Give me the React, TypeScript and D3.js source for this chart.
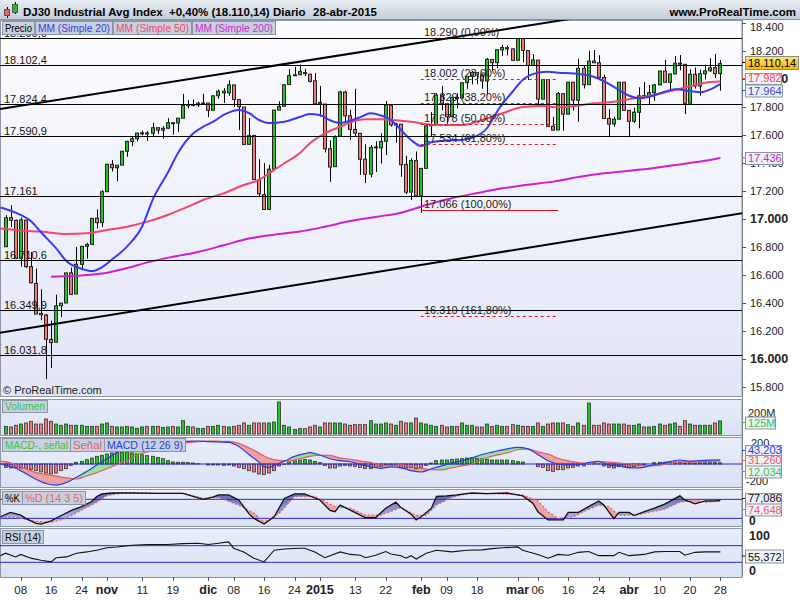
import React from 'react';
import * as d3 from 'd3';

// daily bars, 3-oct-2014 .. 28-abr-2015 (index 0 = 3-oct)
const opens = [16802,17010,16990,16720,16992,16660,16540,16325,16315,16140,
  16120,16380,16400,16615,16465,16676,16805,16819,17006,16974,
  17195,17390,17366,17385,17484,17553,17574,17614,17615,17613,
  17652,17635,17648,17688,17686,17720,17810,17818,17815,17828,
  17828,17777,17880,17913,17901,17958,17853,17800,17533,17597,
  17281,17174,17069,17356,17778,17805,17960,18025,18030,18046,
  18035,17987,17823,17821,17502,17374,17591,17907,17737,17640,
  17612,17427,17320,17512,17508,17555,17813,17672,17677,17389,
  17192,17417,17165,17362,17666,17673,17885,17824,17730,17868,
  17864,17974,18018,18046,18029,17986,18140,18117,18208,18224,
  18215,18134,18288,18203,18097,18135,17856,17996,17663,17636,
  17895,17749,17977,17848,18076,17960,18128,18116,18011,17718,
  17679,17713,17977,17776,17698,17762,17881,17875,17902,17958,
  18057,17976,18036,18113,18105,17827,18034,17950,18037,18059,
  18081,18039];
const highs = [17027,17099,16996,17010,16994,16765,16646,16498,16320,16275,
  16459,16400,16615,16653,16800,16805,16830,17005,17069,17206,
  17395,17421,17384,17484,17559,17590,17614,17630,17628,17688,
  17656,17662,17720,17688,17721,17894,17851,17854,17838,17894,
  17828,17880,17924,17934,17991,17958,17854,17801,17720,17597,
  17427,17400,17388,17778,17841,17960,18069,18086,18103,18073,
  18035,18043,17951,17821,17562,17597,17916,17917,17781,17930,
  17612,17534,17528,17555,17612,17843,17814,17687,17677,17452,
  17434,17482,17365,17666,17763,17898,17951,17824,17873,17899,
  17975,18020,18057,18046,18039,18150,18140,18212,18244,18238,
  18219,18290,18288,18203,18178,18135,18001,17996,17730,17907,
  17895,17978,17977,18145,18093,18202,18207,18170,18032,17784,
  17730,17977,17977,17776,17795,17941,17979,17958,17964,18057,
  18137,18040,18164,18171,18105,18069,18082,18067,18103,18149,
  18178,18135];
const lows = [16802,16942,16716,16660,16650,16540,16321,16277,15855,15936,
  16120,16299,16400,16458,16465,16633,16717,16819,16932,16943,
  17195,17339,17270,17385,17445,17520,17554,17597,17557,17592,
  17609,17575,17645,17603,17620,17720,17791,17804,17799,17815,
  17728,17777,17859,17829,17880,17799,17636,17530,17533,17280,
  17156,17068,17069,17356,17778,17805,17960,18024,18030,18021,
  17975,17820,17731,17475,17266,17374,17591,17684,17566,17586,
  17314,17257,17297,17335,17396,17457,17660,17544,17302,17178,
  17136,17164,17045,17362,17590,17673,17777,17681,17730,17790,
  17864,17930,17961,17962,17931,17886,18059,18077,18165,18168,
  18132,18134,18119,17993,18097,17802,17856,17662,17631,17636,
  17630,17749,17775,17695,17932,17960,18115,18008,17717,17585,
  17659,17713,17775,17585,17685,17648,17874,17816,17844,17958,
  17974,17918,18036,18062,17750,17827,17932,17880,17996,18051,
  18008,17917];
const closes = [17009,16991,16719,16994,16659,16544,16321,16315,16141,16117,
  16380,16399,16615,16462,16677,16805,16818,17005,16974,17195,
  17391,17366,17384,17484,17554,17573,17614,17615,17612,17652,
  17635,17648,17688,17686,17720,17810,17818,17815,17828,17828,
  17777,17880,17913,17901,17959,17853,17801,17533,17597,17281,
  17180,17068,17356,17778,17804,17959,18024,18030,18053,18038,
  17983,17823,17833,17501,17371,17585,17908,17737,17640,17613,
  17427,17320,17512,17515,17554,17814,17672,17678,17388,17191,
  17417,17165,17361,17666,17673,17885,17825,17730,17868,17863,
  17973,18019,18047,18029,17986,18141,18117,18209,18225,18215,
  18133,18289,18204,18097,18136,17857,17996,17662,17635,17896,
  17749,17977,17849,18076,17959,18128,18116,18011,17718,17678,
  17713,17977,17776,17698,17763,17880,17875,17902,17958,18057,
  17977,18036,18113,18106,17826,18034,17950,18038,18058,18080,
  18038,18110];
// volume, millions
const volumes = [73,67,83,95,105,121,95,95,143,121,
  95,83,95,83,83,83,73,73,73,95,
  105,73,67,67,73,67,54,67,73,73,
  73,63,67,73,67,127,73,67,54,54,
  73,73,83,73,67,73,83,105,83,105,
  105,105,105,114,305,83,67,44,51,51,
  67,83,67,105,105,105,105,95,83,89,
  89,89,127,95,95,105,95,83,121,105,
  105,152,105,95,83,73,83,67,73,73,
  105,83,83,67,67,95,73,83,73,73,
  89,83,73,73,73,105,73,95,105,105,
  105,89,73,105,83,295,83,83,105,95,
  95,95,95,83,83,95,67,67,73,95,
  83,95,105,73,127,95,83,83,83,83,
  105,125];
// MACD histogram (MACD - señal), per bar
const macdHist = [-35,-42,-35,-42,-49,-60,-70,-84,-95,-105,
  -95,-70,-49,-14,18,28,46,63,81,91,
  105,116,126,126,126,116,105,98,88,81,
  70,56,35,21,18,18,14,10,2,0,
  -10,-10,-10,-14,-10,-21,-35,-49,-70,-84,
  -105,-112,-95,-70,-21,-3,21,35,42,46,
  42,28,14,-14,-42,-42,-21,-14,-21,-25,
  -35,-49,-49,-35,-25,-14,-14,-14,-35,-42,
  -35,-49,-42,-14,10,35,42,42,49,53,
  56,63,67,56,53,49,42,42,42,42,
  35,25,21,0,0,-28,-35,-70,-77,-60,
  -60,-42,-35,-21,-21,10,14,2,-21,-35,
  -42,-28,-28,-35,-25,-14,-10,0,14,18,
  18,18,21,21,10,14,10,14,14,14,
  14,12];
// [bar index, value]
const macdLine = [[-1,5],[0,-15],[2,-45],[4,-100],[6,-160],[8,-205],[10,-222],[12,-195],[14,-140],[16,-80],[18,-10],[20,55],[22,120],[24,165],[26,200],[28,215],[30,227],[32,234],[34,238],[36,239],[38,242],[40,236],[42,232],[44,228],[46,185],[48,100],[50,20],[51,-28],[52,-38],[53,-15],[55,30],[57,80],[59,110],[60,119],[62,95],[64,55],[66,35],[68,24],[70,-5],[72,-30],[74,-46],[76,-30],[78,-40],[80,-70],[82,-84],[84,-50],[86,-20],[88,10],[90,35],[92,65],[94,100],[96,125],[99,160],[101,175],[103,160],[105,100],[107,35],[109,0],[111,-10],[113,-7],[115,15],[117,28],[118,10],[119,-15],[121,-20],[123,-40],[125,-40],[127,-20],[129,5],[131,25],[133,42],[135,30],[137,35],[139,40],[141,43]];
const signalLine = [[-1,30],[0,25],[2,-8],[4,-50],[6,-90],[8,-110],[10,-127],[12,-146],[14,-158],[16,-126],[18,-91],[20,-50],[22,-6],[24,39],[26,95],[28,127],[30,157],[32,199],[34,220],[36,225],[38,236],[40,241],[42,240],[44,238],[46,218],[48,170],[49,145],[50,115],[51,85],[52,60],[54,38],[56,32],[58,55],[60,80],[62,92],[64,90],[66,62],[68,50],[70,30],[72,18],[74,-15],[76,-18],[78,-10],[80,-28],[82,-42],[84,-60],[86,-62],[88,-40],[90,-20],[92,0],[94,47],[96,83],[99,118],[101,150],[103,160],[105,128],[107,105],[109,60],[111,32],[113,14],[115,5],[117,24],[119,20],[121,10],[123,0],[125,-12],[127,-20],[129,-15],[131,7],[133,20],[135,20],[137,23],[139,27],[141,31]];
const stochK = [[-1,25],[1,39],[3,30],[4,20],[6,4],[7,2],[9,12],[11,29],[13,45],[15,57],[17,73],[18,89],[19,97],[21,100],[25,100],[30,99],[35,99],[37,89],[39,80],[41,88],[42,94],[44,94],[46,78],[48,35],[49,20],[51,2],[53,25],[55,83],[57,97],[59,97],[62,78],[64,45],[65,41],[66,62],[68,46],[71,22],[73,22],[75,52],[77,71],[78,54],[80,33],[81,15],[82,25],[84,52],[85,89],[87,91],[89,94],[92,100],[95,98],[99,100],[102,91],[104,68],[105,41],[107,15],[110,15],[111,39],[113,39],[115,57],[117,75],[118,62],[120,19],[121,39],[123,39],[124,29],[126,41],[128,52],[130,65],[133,91],[134,78],[136,66],[138,75],[140,75],[141,77]];
const stochD = [[-1,22],[2,25],[5,12],[9,7],[12,20],[15,46],[18,71],[20,92],[23,100],[30,99],[35,99],[39,83],[42,86],[46,62],[49,36],[51,8],[54,36],[57,89],[61,89],[65,57],[68,52],[71,30],[74,30],[78,54],[81,29],[83,30],[85,62],[88,86],[91,98],[97,98],[102,94],[105,75],[107,41],[109,19],[112,25],[114,41],[117,62],[119,57],[121,30],[124,30],[126,36],[130,49],[133,71],[136,78],[138,71],[141,74]];
const rsiLine = [[-1,46],[0,52],[2,43],[3,49],[5,40],[7,35],[9,31],[10,41],[12,43],[14,52],[16,55],[18,59],[20,65],[22,67],[25,71],[28,73],[32,73],[35,75],[38,76],[40,73],[42,76],[44,79],[45,64],[47,55],[49,40],[51,31],[53,59],[55,62],[58,64],[59,64],[61,55],[63,41],[66,55],[68,49],[70,47],[71,41],[73,47],[75,56],[76,50],[78,46],[79,40],[80,46],[81,38],[83,52],[85,59],[88,55],[91,59],[94,60],[96,63],[98,65],[101,67],[102,59],[105,49],[107,40],[109,49],[111,47],[113,54],[115,56],[117,46],[120,46],[121,54],[123,46],[126,49],[128,55],[130,56],[133,56],[134,47],[136,54],[138,55],[141,55]];
const sma20 = [[-1,17082],[0,17072],[2,17045],[5,16985],[7,16905],[10,16790],[12,16700],[15,16645],[17,16628],[19,16655],[21,16710],[24,16805],[27,16950],[29,17135],[32,17330],[34,17470],[37,17610],[39,17660],[41,17695],[43,17743],[46,17779],[48,17757],[50,17707],[52,17686],[55,17695],[58,17728],[60,17750],[62,17743],[64,17705],[66,17686],[68,17702],[70,17728],[72,17755],[74,17740],[76,17707],[78,17636],[80,17564],[82,17521],[84,17548],[87,17560],[90,17565],[92,17580],[95,17650],[97,17770],[100,17909],[102,17993],[105,18045],[107,18052],[109,18045],[112,18040],[116,18016],[119,17965],[121,17921],[123,17880],[125,17862],[127,17874],[130,17909],[132,17926],[135,17914],[137,17905],[139,17926],[141,17964]];
const sma50 = [[-1,16932],[0,16929],[3,16917],[7,16910],[12,16893],[16,16898],[20,16921],[24,16945],[28,16981],[32,17029],[36,17088],[39,17136],[43,17183],[47,17243],[50,17279],[52,17326],[55,17398],[58,17469],[60,17540],[63,17612],[66,17659],[68,17690],[71,17712],[74,17712],[77,17705],[80,17695],[85,17671],[90,17671],[94,17707],[98,17755],[102,17800],[106,17807],[109,17798],[112,17807],[116,17826],[120,17838],[124,17862],[128,17886],[132,17921],[136,17957],[139,17978],[141,17982]];
const sma200 = [[9,16588],[14,16595],[19,16610],[24,16650],[28,16690],[33,16730],[38,16765],[43,16812],[48,16860],[53,16888],[58,16910],[63,16945],[68,16985],[73,17015],[78,17045],[83,17100],[88,17148],[93,17185],[98,17219],[103,17245],[108,17267],[113,17300],[118,17326],[123,17345],[128,17365],[133,17390],[137,17410],[141,17436]];

const levelValues = [18290, 18102.4, 17824.4, 17590.9, 17161, 16710.6, 16349.9, 16031.8];
const levelLabels = ['18.290,0', '18.102,4', '17.824,4', '17.590,9', '17.161', '16.710,6', '16.349,9', '16.031,8'];
const fibValues = [18290, 18002, 17829, 17678, 17534, 17066, 16310];
const fibPercents = ['0,00%', '23,60%', '38,20%', '50,00%', '61,80%', '100,00%', '161,80%'];
const upperTrend = [[0, 17792], [100, 18364]];
const lowerTrend = [[0, 16194], [100, 16777]];
const priceTicks = [15800, 16000, 16200, 16400, 16600, 16800, 17000, 17200, 17400, 17600, 17800, 18000, 18200, 18400];
const xTickIndex = [3, 9, 15, 20, 27, 33, 40, 45, 51, 57, 62, 69, 75, 82, 87, 93, 101, 105, 111, 117, 123, 129, 135, 141];
const xTickLabels = ['08', '16', '24', 'nov', '11', '19', 'dic', '08', '16', '24', '2015', '13', '22', 'feb', '09', '18', 'mar', '06', '16', '24', 'abr', '10', '20', '28'];

const FONT = '"Liberation Sans", Arial, sans-serif';
const UP = '#22c822';
const DOWN = '#f07a7a';
const BOX = '#c7d0dd';
const BOXLINE = '#8a94a4';
const PR = 742; // plot right edge

const loc = d3.formatLocale({ decimal: ',', thousands: '.', grouping: [3], currency: ['', ''], minus: '-' });
const fmt = loc.format(',');

type Pt = number[];

const App: React.FC = () => {
    const x = d3.scaleLinear().domain([0, 141]).range([5.5, 720.4]);
    const yP = d3.scaleLinear().domain([16000, 18400]).range([359, 23]);
    const yV = d3.scaleLinear().domain([0, 200]).range([434, 413]);
    const yM = d3.scaleLinear().domain([-200, 200]).range([483, 445]);
    const yS = d3.scaleLinear().domain([0, 100]).range([524.7, 493]);
    const yR = d3.scaleLinear().domain([0, 100]).range([574.8, 533.2]);

    const smooth = (y: d3.ScaleLinear<number, number>) =>
        d3.line<Pt>().x(d => x(d[0])).y(d => y(d[1])).curve(d3.curveMonotoneX);
    const straight = (y: d3.ScaleLinear<number, number>) =>
        d3.line<Pt>().x(d => x(d[0])).y(d => y(d[1]));
    const band = (y: d3.ScaleLinear<number, number>, base: number, curve: d3.CurveFactory) =>
        d3.area<Pt>().x(d => x(d[0])).y0(base).y1(d => y(d[1])).curve(curve);

    const trend = (t: number[][]) => {
        const s = (t[1][1] - t[0][1]) / (t[1][0] - t[0][0]);
        const a = -3, b = 150;
        return { x1: x(a), y1: yP(t[0][1] + s * (a - t[0][0])), x2: x(b), y2: yP(t[0][1] + s * (b - t[0][0])) };
    };
    const ut = trend(upperTrend);
    const lt = trend(lowerTrend);

    // legend tab: text squeezed to the tab width like the original
    const label = (bx: number, by: number, w: number, h: number, text: string, color: string, key: string) => (
        <g key={key}>
            <rect x={bx + 0.5} y={by + 0.5} width={w} height={h} fill={BOX} stroke={BOXLINE} />
            <text x={bx + 3} y={by + h - 2.5} fontSize={11} fill={color}
                textLength={w - 5} lengthAdjust="spacingAndGlyphs">{text}</text>
        </g>
    );
    const valueBox = (by: number, w: number, h: number, text: string, color: string, key: string) => (
        <g key={key}>
            <line x1={PR} x2={PR + 4} y1={by + h / 2} y2={by + h / 2} stroke={color} />
            <rect x={745.5} y={by + 0.5} width={w} height={h} fill="#eef1f7" stroke="#8c94a2" />
            <text x={748} y={by + h - 2} fontSize={11} fill={color}>{text}</text>
        </g>
    );

    const panels = [[399, 435], [437, 487], [489, 526], [528, 577]];
    const fibStart = x(82) - 0.5, fibEnd = x(109);

    return (
        <svg width={800} height={600} style={{ position: 'absolute', left: 0, top: 0 }} fontFamily={FONT}>
            <defs>
                <linearGradient id="hdr" x1="0" y1="0" x2="0" y2="1">
                    <stop offset="0" stopColor="#e8edf3" />
                    <stop offset="1" stopColor="#c3cdd9" />
                </linearGradient>
                <linearGradient id="pbg" x1="0" y1="0" x2="0" y2="1">
                    <stop offset="0" stopColor="#fdfdff" />
                    <stop offset="1" stopColor="#e1e5f6" />
                </linearGradient>
                <linearGradient id="sbg" x1="0" y1="0" x2="0" y2="1">
                    <stop offset="0" stopColor="#e9eefa" />
                    <stop offset="1" stopColor="#d9e1f4" />
                </linearGradient>
                <linearGradient id="last" x1="0" y1="0" x2="0" y2="1">
                    <stop offset="0" stopColor="#ffe27a" />
                    <stop offset="1" stopColor="#f6b400" />
                </linearGradient>
                <linearGradient id="kfill" x1="0" y1="0" x2="0" y2="1">
                    <stop offset="0" stopColor="#5a68b8" />
                    <stop offset="1" stopColor="#c4cbef" />
                </linearGradient>
                <clipPath id="cP"><rect x={0} y={20} width={PR} height={377} /></clipPath>
                <clipPath id="cV"><rect x={0} y={399} width={PR} height={36} /></clipPath>
                <clipPath id="cM"><rect x={0} y={437} width={PR} height={50} /></clipPath>
                <clipPath id="cS"><rect x={0} y={489} width={PR} height={37} /></clipPath>
                <clipPath id="cR"><rect x={0} y={528} width={PR} height={49} /></clipPath>
                <clipPath id="sigUp"><path d={band(yM, 437, d3.curveMonotoneX)(signalLine) || ''} /></clipPath>
                <clipPath id="sigDn"><path d={band(yM, 487, d3.curveMonotoneX)(signalLine) || ''} /></clipPath>
                <clipPath id="dUp"><path d={band(yS, 489, d3.curveLinear)(stochD) || ''} /></clipPath>
                <clipPath id="dDn"><path d={band(yS, 526, d3.curveLinear)(stochD) || ''} /></clipPath>
            </defs>

            <rect x={0} y={0} width={800} height={600} fill="#ffffff" />

            {/* header */}
            <rect x={0} y={0} width={800} height={19.5} fill="url(#hdr)" />
            <line x1={0} x2={800} y1={19.5} y2={19.5} stroke="#8a94a4" />
            <line x1={7.5} x2={7.5} y1={7} y2={18} stroke="#000" />
            <rect x={4.5} y={9.5} width={5} height={6} fill="#f06060" stroke="#555" />
            <line x1={15.5} x2={15.5} y1={2} y2={14} stroke="#000" />
            <rect x={12.5} y={4.5} width={5} height={8} fill="#20c020" stroke="#555" />
            <text x={23} y={16} fontSize={11.5} fontWeight="bold">DJ30 Industrial Avg Index</text>
            <text x={169} y={16} fontSize={11.5} fontWeight="bold">+0,40% (18.110,14)</text>
            <text x={273} y={16} fontSize={11.5} fontWeight="bold">Diario</text>
            <text x={313} y={16} fontSize={11.5} fontWeight="bold">28-abr-2015</text>
            <text x={796} y={16} fontSize={11.5} fontWeight="bold" textAnchor="end">www.ProRealTime.com</text>

            {/* panel backgrounds */}
            <rect x={0.5} y={20.5} width={PR - 0.5} height={376} fill="url(#pbg)" stroke="#8c96a8" />
            {panels.map((p, k) => (
                <rect key={k} x={0.5} y={p[0] + 0.5} width={PR - 0.5} height={p[1] - p[0]} fill="url(#sbg)" stroke="#8c96a8" />
            ))}

            {/* price panel */}
            <g clipPath="url(#cP)">
                {closes.map((c, i) => {
                    const o = opens[i];
                    const cx = Math.round(x(i));
                    const top = yP(Math.max(o, c));
                    const bot = yP(Math.min(o, c));
                    return (
                        <g key={i}>
                            <line x1={cx + 0.5} x2={cx + 0.5} y1={yP(highs[i])} y2={yP(lows[i])} stroke="#000" />
                            <rect x={cx - 1.5} y={top} width={3} height={Math.max(1, bot - top)} fill={c >= o ? UP : DOWN} stroke="#222" />
                        </g>
                    );
                })}
                <path d={smooth(yP)(sma200) || ''} fill="none" stroke="#d21ed2" strokeWidth={2} />
                <path d={smooth(yP)(sma50) || ''} fill="none" stroke="#f2466a" strokeWidth={2} />
                <path d={smooth(yP)(sma20) || ''} fill="none" stroke="#3a3af2" strokeWidth={2} />
                {fibValues.map((v, k) => (
                    <line key={'f' + k} x1={fibStart} x2={fibEnd} y1={Math.round(yP(v)) + 0.5} y2={Math.round(yP(v)) + 0.5}
                        stroke="#e01818" strokeDasharray={k === 0 || k === 5 ? undefined : '3,3'} />
                ))}
                {levelValues.map((v, k) => (
                    <line key={'l' + k} x1={0} x2={PR} y1={Math.round(yP(v)) + 0.5} y2={Math.round(yP(v)) + 0.5} stroke="#000" />
                ))}
                <line {...ut} stroke="#000" strokeWidth={2} />
                <line {...lt} stroke="#000" strokeWidth={2} />
                {levelValues.map((v, k) => (
                    <text key={'t' + k} x={4} y={Math.round(yP(v)) - 1} fontSize={11} fill="#111">{levelLabels[k]}</text>
                ))}
                {fibValues.map((v, k) => (
                    <text key={'ft' + k} x={424} y={Math.round(yP(v)) - 2} fontSize={11} fill="#222">{fmt(v)} ({fibPercents[k]})</text>
                ))}
                <text x={3} y={394} fontSize={11} fill="#222">© ProRealTime.com</text>
            </g>
            {label(2, 21, 32, 13, 'Precio', '#000', 'lp')}
            {label(35, 21, 77, 13, 'MM (Simple 20)', '#3a3af2', 'l20')}
            {label(113, 21, 78, 13, 'MM (Simple 50)', '#f2466a', 'l50')}
            {label(192, 21, 83, 13, 'MM (Simple 200)', '#c82ad2', 'l200')}

            {/* volume */}
            <g clipPath="url(#cV)">
                {volumes.map((v, i) => {
                    const cx = Math.round(x(i));
                    return <rect key={i} x={cx - 1.5} y={yV(v)} width={3} height={434 - yV(v)}
                        fill={closes[i] >= opens[i] ? UP : DOWN} stroke="#333" strokeWidth={0.8} />;
                })}
            </g>
            {label(2, 400, 45, 12, 'Volumen', '#3cc03c', 'lv')}

            {/* MACD */}
            <g clipPath="url(#cM)">
                <path d={band(yM, 487, d3.curveMonotoneX)(macdLine) || ''} fill="#96e496" clipPath="url(#sigUp)" />
                <path d={band(yM, 437, d3.curveMonotoneX)(macdLine) || ''} fill="#eca0a0" clipPath="url(#sigDn)" />
                {macdHist.map((v, i) => {
                    const cx = Math.round(x(i));
                    const y0 = yM(0), y1 = yM(v);
                    return <rect key={i} x={cx - 1.5} y={Math.min(y0, y1)} width={3} height={Math.abs(y1 - y0)}
                        fill={v >= 0 ? UP : DOWN} stroke="#333" strokeWidth={0.8} />;
                })}
                <line x1={0} x2={PR} y1={yM(0)} y2={yM(0)} stroke="#2626d6" />
                <path d={smooth(yM)(signalLine) || ''} fill="none" stroke="#e25a6c" strokeWidth={1.2} />
                <path d={smooth(yM)(macdLine) || ''} fill="none" stroke="#2a3ae6" strokeWidth={1.2} />
            </g>
            {label(2, 438, 68, 13, 'MACD-, señal', '#3cc03c', 'lm1')}
            {label(70, 438, 34, 13, 'Señal', '#e25a6c', 'lm2')}
            {label(104, 438, 81, 13, 'MACD (12 26 9)', '#2a3ae6', 'lm3')}

            {/* Stochastic */}
            <g clipPath="url(#cS)">
                <path d={band(yS, 526, d3.curveLinear)(stochK) || ''} fill="url(#kfill)" clipPath="url(#dUp)" />
                <path d={band(yS, 489, d3.curveLinear)(stochK) || ''} fill="#eda4a4" clipPath="url(#dDn)" />
                <line x1={0} x2={PR} y1={yS(80)} y2={yS(80)} stroke="#2626d6" />
                <line x1={0} x2={PR} y1={yS(20)} y2={yS(20)} stroke="#2626d6" />
                <path d={straight(yS)(stochD) || ''} fill="none" stroke="#e8606a" strokeWidth={1.3} strokeDasharray="2,2" />
                <path d={straight(yS)(stochK) || ''} fill="none" stroke="#111" strokeWidth={1.3} />
            </g>
            {label(2, 491, 20, 13, '%K', '#000', 'lk')}
            {label(22, 491, 63, 13, '%D (14 3 5)', '#e8606a', 'ld')}

            {/* RSI */}
            <g clipPath="url(#cR)">
                <line x1={0} x2={PR} y1={yR(70)} y2={yR(70)} stroke="#2626d6" />
                <line x1={0} x2={PR} y1={yR(30)} y2={yR(30)} stroke="#2626d6" />
                <path d={straight(yR)(rsiLine) || ''} fill="none" stroke="#111" strokeWidth={1.1} />
            </g>
            {label(2, 530, 41, 13, 'RSI (14)', '#000', 'lr')}

            {/* right axis */}
            <line x1={PR + 0.5} x2={PR + 0.5} y1={20} y2={577} stroke="#7a8290" />
            {priceTicks.map(v => {
                const ty = Math.max(27, yP(v));
                const big = v % 1000 === 0;
                return (
                    <g key={v}>
                        <line x1={PR} x2={PR + 4} y1={Math.round(yP(v)) + 0.5} y2={Math.round(yP(v)) + 0.5} stroke="#555" />
                        <text x={750} y={ty + 4} fontSize={big ? 12.5 : 11} fontWeight={big ? 'bold' : 'normal'} fill="#222">{fmt(v)}</text>
                    </g>
                );
            })}
            <g>
                <line x1={PR} x2={PR + 4} y1={62.5} y2={62.5} stroke="#000" />
                <rect x={745.5} y={56.5} width={53} height={13} fill="url(#last)" stroke="#8c8c8c" />
                <text x={748} y={67} fontSize={11} fill="#000">18.110,14</text>
            </g>
            {valueBox(73, 36, 11, '17.982', '#f2466a', 'v50')}
            {valueBox(84.5, 37, 12, '17.964', '#3a3af2', 'v20')}
            {valueBox(152, 37, 12, '17.436', '#c82ad2', 'v200')}

            <text x={748} y={417} fontSize={11} fill="#222">200M</text>
            {valueBox(416.5, 30, 12, '125M', '#3cc03c', 'vv')}

            <text x={751} y={447} fontSize={11} fill="#222">200</text>
            <text x={746} y={485} fontSize={11} fill="#222">-200</text>
            {valueBox(445, 36, 11, '43,203', '#2a3ae6', 'vm1')}
            {valueBox(455, 36, 11, '31,260', '#e25a6c', 'vm2')}
            {valueBox(465.5, 36, 12, '12,034', '#3cc03c', 'vm3')}

            {valueBox(493, 36, 11, '77,086', '#111', 'vk')}
            {valueBox(503.5, 36, 12, '74,648', '#e8606a', 'vd')}
            <text x={749} y={525} fontSize={12} fontWeight="bold" fill="#222">0</text>

            <text x={749} y={540} fontSize={12.5} fontWeight="bold" fill="#222">100</text>
            {valueBox(549.5, 38, 13, '55,372', '#111', 'vr')}
            <text x={749} y={575} fontSize={12.5} fontWeight="bold" fill="#222">0</text>

            {/* x axis */}
            {xTickIndex.map((i, k) => {
                const bold = isNaN(+xTickLabels[k]) || xTickLabels[k] === '2015';
                return (
                    <g key={k}>
                        <line x1={Math.round(x(i)) + 0.5} x2={Math.round(x(i)) + 0.5} y1={577} y2={581} stroke="#555" />
                        <text x={x(i)} y={594} fontSize={bold ? 12.5 : 11.5} fontWeight={bold ? 'bold' : 'normal'}
                            textAnchor="middle" fill="#222">{xTickLabels[k]}</text>
                    </g>
                );
            })}
        </svg>
    );
};

export default App;
